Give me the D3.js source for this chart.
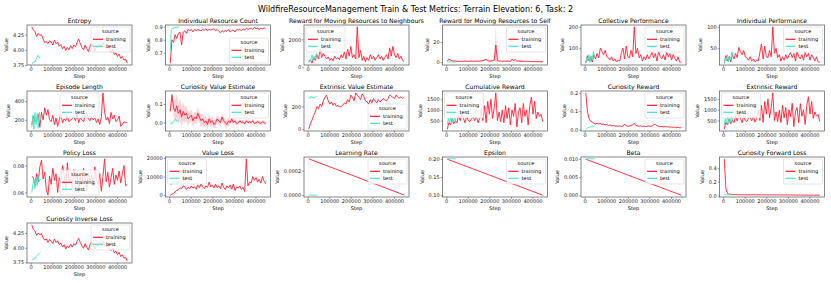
<!DOCTYPE html>
<html>
<head>
<meta charset="utf-8">
<script src="https://cdn.jsdelivr.net/npm/d3@7"></script>
<style>
  body { margin: 0; background: #fff; }
  svg { display: block; font-family: "DejaVu Sans", sans-serif; }
</style>
</head>
<body>
<svg id="chart" width="831" height="283"></svg>
<script>
// x values: logged steps of the training runs, of the test runs, and of the linear schedules
const trainSteps = [
  5000, 12500, 20000, 27500, 35000, 42500, 50000, 57500, 65000, 72500,
  80000, 87500, 95000, 102500, 110000, 117500, 125000, 132500, 140000, 147500,
  155000, 162500, 170000, 177500, 185000, 192500, 200000, 207500, 215000, 222500,
  230000, 237500, 245000, 252500, 260000, 267500, 275000, 282500, 290000, 297500,
  305000, 312500, 320000, 327500, 335000, 342500, 350000, 357500, 365000, 372500,
  380000, 387500, 395000, 402500, 410000, 417500, 425000, 432500, 440000, 447500,
];
const testSteps = [5000, 10000, 15000, 20000, 25000, 30000, 35000, 40000, 45000];
const schedSteps = [5000, 447500];
const testSchedSteps = [5000, 45000];

const entropy = [
  4.38, 4.33, 4.30, 4.22, 4.27, 4.24, 4.25, 4.18, 4.12, 4.14,
  4.10, 4.15, 4.13, 4.08, 4.16, 4.10, 4.13, 4.06, 4.09, 4.02,
  4.06, 3.99, 4.04, 4.00, 4.07, 4.02, 4.08, 4.05, 4.12, 4.18,
  4.10, 4.04, 4.00, 4.08, 4.02, 3.97, 4.06, 4.11, 4.05, 3.98,
  4.07, 4.03, 4.10, 4.05, 4.12, 4.06, 4.02, 4.08, 4.00, 3.96,
  4.01, 3.92, 3.95, 3.89, 3.93, 3.86, 3.89, 3.83, 3.85, 3.78,
];
const entropyTest = [3.79, 3.78, 3.81, 3.80, 3.84, 3.88, 3.91, 3.87, 3.86];

const resourceCount = [
  0.62, 0.80, 0.78, 0.84, 0.81, 0.85, 0.86, 0.76, 0.86, 0.87,
  0.85, 0.88, 0.87, 0.88, 0.86, 0.88, 0.87, 0.88, 0.875, 0.87,
  0.88, 0.875, 0.885, 0.87, 0.88, 0.875, 0.88, 0.885, 0.87, 0.88,
  0.865, 0.855, 0.87, 0.86, 0.875, 0.865, 0.88, 0.86, 0.87, 0.875,
  0.86, 0.88, 0.875, 0.88, 0.87, 0.885, 0.875, 0.89, 0.88, 0.885,
  0.89, 0.88, 0.895, 0.885, 0.89, 0.88, 0.89, 0.885, 0.89, 0.89,
];
const resourceCountTest = [0.71, 0.88, 0.89, 0.885, 0.90, 0.89, 0.90, 0.895, 0.90];

const rewardNeighbours = [
  400, 550, 300, 700, 500, 900, 600, 1300, 700, 1000,
  800, 600, 750, 500, 650, 450, 800, 600, 700, 550,
  900, 700, 1100, 600, 1300, 800, 1500, 700, 900, 600,
  2900, 700, 1200, 500, 800, 400, 700, 500, 900, 600,
  800, 500, 700, 900, 600, 800, 500, 700, 900, 600,
  1400, 800, 1500, 900, 700, 1000, 600, 800, 500, 400,
];
const rewardNeighboursTest = [500, 400, 600, 900, 500, 800, 600, 1000, 700];

const rewardSelf = [
  1, 3, 2, 1.5, 1, 1.2, 0.8, 1, 0.7, 1,
  0.9, 1.1, 0.8, 1, 0.9, 1.2, 0.8, 1, 1.1, 0.9,
  1, 1.3, 1.5, 2, 3, 1.5, 1, 1.2, 1.5, 2,
  17, 2, 1, 1.2, 0.8, 1, 0.9, 1.1, 1, 0.8,
  3, 1.5, 2.5, 1, 1.2, 0.9, 1, 0.8, 1, 0.7,
  0.9, 0.8, 0.6, 0.7, 0.5, 0.6, 0.4, 0.5, 0.4, 0.3,
];
const rewardSelfSpread = [
  0.4, 0.8, 0.6, 0.4, 0.4, 0.4, 0.4, 0.4, 0.4, 0.4,
  0.4, 0.4, 0.4, 0.4, 0.4, 0.4, 0.4, 0.4, 0.4, 0.4,
  0.4, 0.4, 0.5, 0.6, 0.8, 0.5, 0.4, 0.4, 0.5, 1,
  18, 1, 0.4, 0.4, 0.4, 0.4, 0.4, 0.4, 0.4, 0.4,
  0.8, 0.5, 0.6, 0.4, 0.4, 0.4, 0.4, 0.4, 0.4, 0.3,
  0.3, 0.3, 0.3, 0.3, 0.3, 0.3, 0.2, 0.2, 0.2, 0.2,
];
const rewardSelfTest = [0.2, 0.1, 0.1, 0.2, 0.1, 0.1, 0.2, 0.1, 0.1];

const collectivePerf = [
  30, 65, 40, 60, 35, 70, 50, 75, 55, 100,
  85, 70, 90, 60, 55, 45, 60, 40, 50, 35,
  45, 40, 80, 100, 50, 110, 60, 55, 90, 60,
  200, 75, 100, 55, 70, 40, 60, 45, 70, 50,
  65, 80, 55, 75, 40, 85, 60, 50, 70, 45,
  80, 60, 75, 45, 70, 55, 40, 60, 35, 35,
];
const collectivePerfTest = [30, 55, 40, 70, 35, 65, 45, 85, 60];

const individualPerf = [
  15, 33, 20, 30, 18, 35, 25, 38, 28, 52,
  42, 35, 45, 30, 28, 22, 30, 20, 25, 18,
  22, 20, 40, 60, 25, 55, 30, 28, 45, 30,
  100, 38, 50, 28, 35, 20, 30, 22, 35, 25,
  33, 40, 28, 38, 20, 42, 30, 25, 35, 22,
  40, 30, 38, 22, 35, 28, 20, 30, 18, 18,
];
const individualPerfTest = [15, 28, 20, 35, 18, 32, 22, 42, 30];

const episodeLength = [
  150, 240, 180, 200, 260, 120, 280, 200, 330, 250,
  310, 200, 180, 250, 150, 220, 130, 200, 260, 170,
  210, 190, 240, 180, 200, 210, 230, 190, 260, 170,
  220, 200, 180, 250, 280, 210, 190, 240, 200, 220,
  170, 210, 150, 230, 490, 280, 200, 230, 160, 280,
  210, 250, 180, 200, 240, 130, 150, 180, 170, 170,
];
const episodeLengthTest = [120, 250, 100, 280, 150, 270, 110, 280, 200];

const curiosityValue = [
  0.06, 0.15, 0.08, 0.06, 0.09, 0.05, 0.07, 0.03, 0.06, 0.04,
  0.05, 0.02, 0.03, 0.04, 0.01, 0.03, 0.02, 0.05, 0.03, 0.01,
  0.02, 0.00, 0.01, -0.01, 0.02, 0.00, 0.01, -0.01, 0.00, 0.02,
  0.01, 0.00, 0.03, 0.01, 0.00, -0.01, 0.01, 0.00, 0.02, 0.00,
  0.01, -0.005, 0.00, 0.01, 0.00, 0.005, -0.005, 0.01, 0.00, 0.005,
  0.00, 0.01, -0.005, 0.00, 0.005, 0.00, -0.005, 0.005, 0.00, -0.005,
];
const curiosityValueSpread = [
  0.01, 0.01, 0.04, 0.06, 0.06, 0.05, 0.06, 0.05, 0.05, 0.04,
  0.04, 0.04, 0.03, 0.03, 0.03, 0.03, 0.03, 0.03, 0.03, 0.03,
  0.03, 0.03, 0.025, 0.025, 0.025, 0.025, 0.025, 0.02, 0.02, 0.02,
  0.02, 0.02, 0.02, 0.02, 0.02, 0.02, 0.02, 0.015, 0.015, 0.015,
  0.01, 0.01, 0.01, 0.01, 0.01, 0.01, 0.01, 0.01, 0.01, 0.01,
  0.01, 0.01, 0.01, 0.01, 0.01, 0.01, 0.01, 0.01, 0.01, 0.01,
];
const curiosityValueTest = [-0.005, -0.002, -0.005, 0.005, 0.015, 0.02, 0.008, 0.01, 0.003];

const extrinsicValue = [
  0, 50, 80, 120, 150, 200, 180, 220, 200, 250,
  280, 300, 250, 220, 240, 210, 230, 200, 210, 195,
  200, 210, 230, 220, 260, 240, 300, 280, 250, 320,
  300, 280, 260, 310, 290, 250, 240, 220, 260, 230,
  270, 250, 230, 260, 240, 250, 270, 260, 250, 270,
  300, 290, 280, 270, 300, 280, 275, 285, 270, 280,
];
const extrinsicValueTest = [280, 270, 290, 275, 285, 270, 280, 290, 285];

const cumulativeReward = [
  100, 400, 300, 600, 350, 500, 400, 700, 500, 800,
  600, 400, 700, 500, 450, 600, 650, 500, 700, 400,
  600, 1000, 500, 1200, 400, 1400, 800, 1500, 600, 1100,
  1800, 500, 900, 450, 1000, 400, 1200, 600, 1100, 300,
  1000, 700, 1300, 200, 900, 1100, 400, 1300, 700, 1000,
  300, 1200, 1600, 800, 1400, 600, 900, 700, 800, 450,
];
const cumulativeRewardTest = [300, 600, 400, 700, 350, 600, 450, 650, 500];

const curiosityReward = [
  0.20, 0.10, 0.06, 0.045, 0.04, 0.035, 0.03, 0.035, 0.03, 0.032,
  0.028, 0.03, 0.025, 0.028, 0.022, 0.025, 0.02, 0.022, 0.018, 0.02,
  0.018, 0.02, 0.017, 0.019, 0.03, 0.02, 0.018, 0.02, 0.022, 0.025,
  0.035, 0.022, 0.02, 0.018, 0.02, 0.017, 0.019, 0.016, 0.018, 0.02,
  0.017, 0.019, 0.025, 0.03, 0.02, 0.018, 0.016, 0.017, 0.015, 0.016,
  0.014, 0.015, 0.013, 0.014, 0.012, 0.013, 0.011, 0.012, 0.010, 0.010,
];
const curiosityRewardTest = [0.002, 0.006, 0.01, 0.012, 0.014, 0.015, 0.014, 0.016, 0.018];

const extrinsicReward = [
  100, 420, 300, 580, 350, 520, 400, 700, 480, 800,
  620, 400, 680, 500, 450, 620, 650, 480, 700, 420,
  600, 980, 500, 1200, 420, 1380, 800, 1500, 620, 1100,
  1780, 500, 900, 450, 980, 400, 1200, 620, 1100, 300,
  1000, 680, 1300, 220, 900, 1100, 400, 1280, 700, 1000,
  320, 1200, 1600, 800, 1380, 600, 900, 700, 780, 450,
];
const extrinsicRewardTest = [300, 580, 400, 700, 350, 620, 450, 650, 500];

const policyLoss = [
  0.072, 0.071, 0.065, 0.074, 0.068, 0.079, 0.084, 0.070, 0.075, 0.062,
  0.058, 0.072, 0.066, 0.078, 0.069, 0.074, 0.060, 0.071, 0.067, 0.080,
  0.073, 0.063, 0.082, 0.068, 0.071, 0.064, 0.077, 0.069, 0.074, 0.060,
  0.072, 0.066, 0.078, 0.070, 0.062, 0.075, 0.068, 0.073, 0.065, 0.079,
  0.070, 0.066, 0.074, 0.061, 0.072, 0.085, 0.068, 0.075, 0.064, 0.071,
  0.078, 0.066, 0.073, 0.069, 0.076, 0.067, 0.074, 0.080, 0.065, 0.066,
];
const policyLossTest = [0.060, 0.066, 0.070, 0.063, 0.071, 0.065, 0.072, 0.068, 0.070];

const valueLoss = [
  0, 500, 1000, 1800, 2500, 3000, 4000, 3500, 5000, 4500,
  3000, 4200, 3500, 5000, 3800, 4500, 3200, 5500, 4000, 6000,
  4500, 3500, 5000, 4200, 7000, 4500, 5500, 3800, 6000, 4000,
  5000, 3500, 6500, 4200, 3000, 5000, 4000, 5500, 3200, 6000,
  2500, 4500, 3800, 5000, 3000, 4200, 2000, 19500, 5000, 7000,
  6500, 10000, 8000, 9500, 7000, 8500, 6500, 10000, 7500, 6000,
];
const valueLossTest = [6000, 5500, 7000, 6500, 7500, 6000, 7000, 6500, 7000];

const learningRate = [0.000297, 0.000001];
const learningRateTest = [0, 0];
const epsilon = [0.199, 0.1005];
const epsilonTest = [0.2, 0.2];
const beta = [0.0099, 0.00005];
const betaTest = [0.01, 0.01];

const forwardLoss = [
  0.53, 0.10, 0.03, 0.02, 0.018, 0.015, 0.014, 0.013, 0.012, 0.012,
  0.011, 0.011, 0.012, 0.010, 0.011, 0.010, 0.011, 0.010, 0.012, 0.011,
  0.010, 0.010, 0.011, 0.010, 0.010, 0.011, 0.010, 0.009, 0.010, 0.009,
  0.010, 0.009, 0.009, 0.010, 0.009, 0.008, 0.009, 0.008, 0.009, 0.008,
  0.008, 0.008, 0.007, 0.008, 0.007, 0.007, 0.007, 0.006, 0.007, 0.006,
  0.006, 0.006, 0.006, 0.005, 0.006, 0.005, 0.005, 0.005, 0.005, 0.005,
];
const forwardLossTest = [0.02, 0.015, 0.012, 0.01, 0.01, 0.009, 0.01, 0.009, 0.009];

const inverseLoss = [
  4.39, 4.31, 4.28, 4.21, 4.25, 4.22, 4.24, 4.17, 4.13, 4.15,
  4.09, 4.14, 4.11, 4.07, 4.15, 4.09, 4.12, 4.05, 4.08, 4.01,
  4.05, 3.98, 4.03, 4.00, 4.06, 4.01, 4.07, 4.04, 4.11, 4.16,
  4.09, 4.03, 3.99, 4.07, 4.01, 3.96, 4.05, 4.10, 4.04, 3.98,
  4.06, 4.02, 4.09, 4.04, 4.11, 4.05, 4.01, 4.07, 3.99, 3.95,
  4.00, 3.91, 3.94, 3.88, 3.92, 3.85, 3.88, 3.82, 3.84, 3.77,
];
const inverseLossTest = [3.80, 3.79, 3.82, 3.81, 3.85, 3.87, 3.89, 3.90, 3.92];

const xTicks = [0, 100000, 200000, 300000, 400000];
const sourceLabels = ['training', 'test'];

const panels = [
  { title: 'Entropy', train: entropy, test: entropyTest, ticks: [3.75, 4.00, 4.25], fmt: '.2f', legend: 'ur' },
  { title: 'Individual Resource Count', train: resourceCount, test: resourceCountTest, ticks: [0.7, 0.8, 0.9], fmt: '.1f', legend: 'lr' },
  { title: 'Reward for Moving Resources to Neighbours', train: rewardNeighbours, test: rewardNeighboursTest, ticks: [0, 2000], fmt: 'd', legend: 'ul' },
  { title: 'Reward for Moving Resources to Self', train: rewardSelf, spread: rewardSelfSpread, test: rewardSelfTest, ticks: [0, 20], fmt: 'd', legend: 'ur' },
  { title: 'Collective Performance', train: collectivePerf, test: collectivePerfTest, ticks: [100, 200], fmt: 'd', legend: 'ur' },
  { title: 'Individual Performance', train: individualPerf, test: individualPerfTest, ticks: [50, 100], fmt: 'd', legend: 'ur' },
  { title: 'Episode Length', train: episodeLength, test: episodeLengthTest, ticks: [200, 400], fmt: 'd', legend: 'uc' },
  { title: 'Curiosity Value Estimate', train: curiosityValue, spread: curiosityValueSpread, test: curiosityValueTest, ticks: [0.0, 0.1], fmt: '.1f', legend: 'ur' },
  { title: 'Extrinsic Value Estimate', train: extrinsicValue, test: extrinsicValueTest, ticks: [0, 200], fmt: 'd', legend: 'lr' },
  { title: 'Cumulative Reward', train: cumulativeReward, test: cumulativeRewardTest, ticks: [500, 1000, 1500], fmt: 'd', legend: 'ul' },
  { title: 'Curiosity Reward', train: curiosityReward, test: curiosityRewardTest, ticks: [0.0, 0.1, 0.2], fmt: '.1f', legend: 'ur' },
  { title: 'Extrinsic Reward', train: extrinsicReward, test: extrinsicRewardTest, ticks: [500, 1000, 1500], fmt: 'd', legend: 'ul' },
  { title: 'Policy Loss', train: policyLoss, test: policyLossTest, ticks: [0.06, 0.08], fmt: '.2f', legend: 'lc' },
  { title: 'Value Loss', train: valueLoss, test: valueLossTest, ticks: [0, 10000, 20000], fmt: 'd', legend: 'ul' },
  { title: 'Learning Rate', train: learningRate, trainX: schedSteps, test: learningRateTest, testX: testSchedSteps, ticks: [0, 0.0002], fmt: '.4f', legend: 'ur' },
  { title: 'Epsilon', train: epsilon, trainX: schedSteps, test: epsilonTest, testX: testSchedSteps, ticks: [0.10, 0.15, 0.20], fmt: '.2f', legend: 'ur' },
  { title: 'Beta', train: beta, trainX: schedSteps, test: betaTest, testX: testSchedSteps, ticks: [0, 0.005, 0.010], fmt: '.3f', legend: 'ur' },
  { title: 'Curiosity Forward Loss', train: forwardLoss, test: forwardLossTest, ticks: [0.0, 0.2, 0.4], fmt: '.1f', legend: 'ur' },
  { title: 'Curiosity Inverse Loss', train: inverseLoss, test: inverseLossTest, ticks: [3.75, 4.00, 4.25], fmt: '.2f', legend: 'ur' },
];

const colors = { training: '#ff1f35', test: '#40e6c4' };
const tickFont = 5;
const legendFont = 5.1;
const grid = { left: 27, top: 25, dx: 138.5, dy: 66, w: 105, h: 40 };

const svg = d3.select('#chart');
svg.append('rect').attr('width', 831).attr('height', 283).attr('fill', '#fff');

svg.append('text')
  .attr('x', 415.5).attr('y', 11.5)
  .attr('text-anchor', 'middle')
  .attr('font-size', 8)
  .attr('fill', '#000')
  .text('WildfireResourceManagement Train & Test Metrics: Terrain Elevation: 6, Task: 2');

// pad a [min, max] extent the way matplotlib does (5% each side)
function padded([lo, hi]) {
  const m = (hi - lo) * 0.05;
  return [lo - m, hi + m];
}

panels.forEach((p, i) => {
  const col = i % 6;
  const row = Math.floor(i / 6);
  const { w, h } = grid;
  const g = svg.append('g')
    .attr('transform', `translate(${grid.left + col * grid.dx},${grid.top + row * grid.dy})`);

  const trainX = p.trainX || trainSteps;
  const testX = p.testX || testSteps;
  const trainPts = p.train.map((v, k) => ({ x: trainX[k], y: v, s: p.spread ? p.spread[k] : 0 }));
  const testPts = p.test.map((v, k) => ({ x: testX[k], y: v }));

  const x = d3.scaleLinear()
    .domain(padded(d3.extent(trainX.concat(testX))))
    .range([0, w]);
  const yVals = trainPts.flatMap((d) => [d.y - d.s, d.y + d.s]).concat(p.test);
  const y = d3.scaleLinear()
    .domain(padded(d3.extent(yVals)))
    .range([h, 0]);

  // confidence band of the training runs
  if (p.spread) {
    g.append('path')
      .datum(trainPts)
      .attr('fill', colors.training)
      .attr('fill-opacity', 0.2)
      .attr('d', d3.area().x((d) => x(d.x)).y0((d) => y(d.y - d.s)).y1((d) => y(d.y + d.s)));
  }

  const line = d3.line().x((d) => x(d.x)).y((d) => y(d.y));
  g.append('path')
    .datum(trainPts)
    .attr('fill', 'none')
    .attr('stroke', colors.training)
    .attr('stroke-width', 0.9)
    .attr('d', line);
  g.append('path')
    .datum(testPts)
    .attr('fill', 'none')
    .attr('stroke', colors.test)
    .attr('stroke-width', 0.9)
    .attr('d', line);

  // axes
  const xAxis = g.append('g')
    .attr('transform', `translate(0,${h})`)
    .call(d3.axisBottom(x).tickValues(xTicks).tickFormat(d3.format('d')).tickSize(1.8).tickPadding(1));
  const yAxis = g.append('g')
    .call(d3.axisLeft(y).tickValues(p.ticks).tickFormat(d3.format(p.fmt)).tickSize(1.8).tickPadding(1));
  [xAxis, yAxis].forEach((a) => {
    a.select('.domain').remove();
    a.selectAll('line').attr('stroke', '#333').attr('stroke-width', 0.5);
    a.selectAll('text').attr('font-size', tickFont).attr('font-family', 'DejaVu Sans').attr('fill', '#222');
  });

  // y label sits left of the widest tick label
  const tickWidth = d3.max(yAxis.selectAll('text').nodes(), (n) => n.getComputedTextLength());

  g.append('rect')
    .attr('width', w).attr('height', h)
    .attr('fill', 'none')
    .attr('stroke', '#555')
    .attr('stroke-width', 0.7);

  g.append('text')
    .attr('x', w / 2).attr('y', -2.5)
    .attr('text-anchor', 'middle')
    .attr('font-size', 6.1)
    .text(p.title);
  g.append('text')
    .attr('x', w / 2).attr('y', h + 13)
    .attr('text-anchor', 'middle')
    .attr('font-size', tickFont)
    .text('Step');
  g.append('text')
    .attr('transform', `translate(${-(tickWidth + 7.5)},${h / 2}) rotate(-90)`)
    .attr('text-anchor', 'middle')
    .attr('font-size', tickFont)
    .text('Value');

  // legend box
  const lw = 39;
  const lh = 25;
  const pad = 2;
  const lx = p.legend[1] === 'r' ? w - lw - pad : p.legend[1] === 'l' ? pad : (w - lw) / 2;
  const ly = p.legend[0] === 'u' ? pad : h - lh - pad;
  const leg = g.append('g').attr('transform', `translate(${lx},${ly})`);
  leg.append('rect')
    .attr('width', lw).attr('height', lh).attr('rx', 1)
    .attr('fill', '#fff').attr('fill-opacity', 0.8)
    .attr('stroke', '#ccc').attr('stroke-width', 0.5);
  leg.append('text')
    .attr('x', lw / 2).attr('y', 6.3)
    .attr('text-anchor', 'middle')
    .attr('font-size', legendFont)
    .text('source');
  sourceLabels.forEach((s, k) => {
    const yy = 12.3 + k * 7;
    leg.append('line')
      .attr('x1', 2).attr('x2', 12).attr('y1', yy).attr('y2', yy)
      .attr('stroke', colors[s]).attr('stroke-width', 1.2);
    leg.append('text')
      .attr('x', 15).attr('y', yy + 1.8)
      .attr('font-size', legendFont)
      .text(s);
  });
});
</script>
</body>
</html>
